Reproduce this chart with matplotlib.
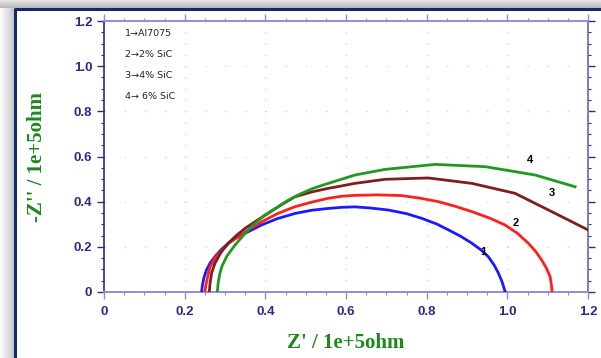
import matplotlib.pyplot as plt
import numpy as np
from matplotlib.ticker import MultipleLocator
from matplotlib.lines import Line2D

# Nyquist data, Z' and -Z'' in units of 1e+5 ohm
x1 = [0.242, 0.244, 0.248, 0.254, 0.263, 0.275, 0.29, 0.308, 0.328, 0.350, 0.391, 0.43, 0.474, 0.515, 0.556,
      0.59, 0.622, 0.66, 0.705, 0.75, 0.788, 0.825, 0.854, 0.885, 0.912, 0.935, 0.953, 0.967, 0.978, 0.987, 0.993, 0.995]
y1 = [0, 0.03, 0.065, 0.097, 0.128, 0.156, 0.187, 0.216, 0.24, 0.26, 0.297, 0.325, 0.348, 0.362, 0.37,
      0.375, 0.377, 0.372, 0.363, 0.347, 0.326, 0.301, 0.275, 0.246, 0.216, 0.186, 0.156, 0.12, 0.083, 0.045, 0.01, 0]

x2 = [0.250, 0.253, 0.258, 0.263, 0.276, 0.292, 0.31, 0.333, 0.36, 0.391, 0.43, 0.474, 0.515, 0.556, 0.59, 0.622,
      0.68, 0.738, 0.785, 0.829, 0.87, 0.912, 0.955, 0.994, 1.025, 1.052, 1.07, 1.085, 1.097, 1.106, 1.109, 1.111]
y2 = [0, 0.035, 0.075, 0.112, 0.152, 0.186, 0.217, 0.245, 0.277, 0.311, 0.347, 0.378, 0.398, 0.415, 0.424, 0.428,
      0.43, 0.427, 0.415, 0.40, 0.38, 0.356, 0.328, 0.297, 0.26, 0.216, 0.18, 0.142, 0.105, 0.068, 0.035, 0]

x3 = [0.261, 0.263, 0.267, 0.275, 0.29, 0.308, 0.328, 0.350, 0.38, 0.407, 0.44, 0.474, 0.515, 0.556, 0.59, 0.622,
      0.697, 0.804, 0.912, 1.019, 1.102, 1.2]
y3 = [0, 0.04, 0.085, 0.127, 0.175, 0.216, 0.25, 0.282, 0.318, 0.348, 0.387, 0.422, 0.443, 0.459, 0.47, 0.481,
      0.499, 0.505, 0.481, 0.437, 0.363, 0.275]

x4 = [0.281, 0.283, 0.287, 0.292, 0.305, 0.325, 0.35, 0.374, 0.40, 0.432, 0.46, 0.490, 0.52, 0.556, 0.59, 0.622,
      0.697, 0.821, 0.945, 1.069, 1.168]
y4 = [0, 0.04, 0.08, 0.112, 0.16, 0.208, 0.26, 0.304, 0.342, 0.378, 0.41, 0.437, 0.46, 0.481, 0.50, 0.518,
      0.543, 0.565, 0.555, 0.518, 0.466]

legend_lines = ['1\u2192Al7075', '2\u21922% SiC', '3\u21924% SiC', '4\u2192 6% SiC']
curve_tags = ['1', '2', '3', '4']
tag_pos = [(0.94, 0.178), (1.021, 0.307), (1.11, 0.437), (1.056, 0.585)]

W, H = 601, 358
fig = plt.figure(figsize=(W/100, H/100), dpi=100)
fig.patch.set_facecolor('white')

# window decoration: top gray band, left shadow, navy frame
bg = fig.add_axes([0, 0, 1, 1], zorder=-5)
bg.axis('off')
bg.imshow(np.linspace(1, 0.78, 50)[None, :], cmap='gray', vmin=0, vmax=1, extent=[0, 14, H, 8], aspect='auto')
bg.imshow(np.linspace(0.9, 0.72, 20)[:, None], cmap='gray', vmin=0, vmax=1, extent=[0, W, 8, 0], aspect='auto')
bg.add_line(Line2D([15, 15, W], [H, 8.5, 8.5], color='#13296b', lw=2.2))
bg.set_xlim(0, W); bg.set_ylim(H, 0)

ax = fig.add_axes([104/W, 1-292/H, (588-104)/W, (292-21)/H])
ax.set_facecolor('none')

ax.plot(x1, y1, color='#1a1aff', lw=2.0, zorder=3)
ax.plot(x2, y2, color='#ff1f1f', lw=2.0, zorder=3)
ax.plot(x3, y3, color='#7e1e1e', lw=2.0, zorder=3)
ax.plot(x4, y4, color='#1f9a1f', lw=2.0, zorder=3)

for t, (tx, ty) in zip(curve_tags, tag_pos):
    ax.text(tx, ty, t, fontsize=8, fontweight='bold', color='black', ha='center', va='center',
            family=['Liberation Sans', 'DejaVu Sans'])

for i, s in enumerate(legend_lines):
    ax.text(0.052, 1.143 - i*0.0925, s, fontsize=6.8, color='#222222', va='center', ha='left',
            family=['DejaVu Sans'])

ax.set_xlim(0, 1.2)
ax.set_ylim(0, 1.2)
ax.xaxis.set_minor_locator(MultipleLocator(0.05))
ax.yaxis.set_minor_locator(MultipleLocator(0.05))
ax.set_xticks([0, 0.2, 0.4, 0.6, 0.8, 1.0, 1.2])
ax.set_xticklabels(['0', '0.2', '0.4', '0.6', '0.8', '1.0', '1.2'])
ax.set_yticks([0, 0.2, 0.4, 0.6, 0.8, 1.0, 1.2])
ax.set_yticklabels(['0', '0.2', '0.4', '0.6', '0.8', '1.0', '1.2'])

# dotted grid
ax.xaxis.grid(True, which='major', color='#dcdcb8', lw=1.0, linestyle=(0, (1, 7.1)))
ax.yaxis.grid(True, which='major', color='#dcdcb8', lw=1.0, linestyle=(0, (1, 13.5)))
ax.set_axisbelow(True)

ax.spines['left'].set_color('#2a2a9a')
ax.spines['left'].set_linewidth(1.2)
for s in ['bottom', 'top', 'right']:
    ax.spines[s].set_color('#8f8fd0')
    ax.spines[s].set_linewidth(1.4)
ax.spines['right'].set_color('#7a7ac8')

ax.tick_params(which='both', direction='out', top=True, right=True, color='#8f8fd0',
               labelcolor='#2b2a8a', labelsize=9.5)
ax.tick_params(which='major', length=5, width=1)
ax.tick_params(which='minor', length=2.5, width=0.8)
ax.tick_params(axis='y', which='both', colors='#2b2a8a')
for lab in ax.get_xticklabels() + ax.get_yticklabels():
    lab.set_fontweight('bold')
    lab.set_family('Liberation Sans')
ax.tick_params(axis='x', pad=5)

ax.set_xlabel("Z' / 1e+5ohm", fontsize=15, fontweight='bold', color='#1a8a1a',
              family='Liberation Serif', labelpad=11)
ax.set_ylabel("-Z'' / 1e+5ohm", fontsize=15, fontweight='bold', color='#1a8a1a',
              family='Liberation Serif', labelpad=19)

fig.savefig('out.png', dpi=100)
